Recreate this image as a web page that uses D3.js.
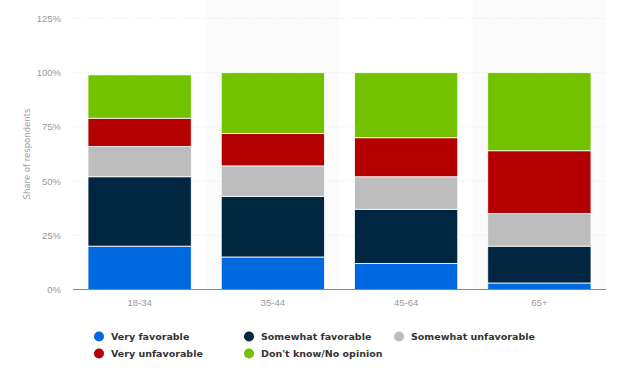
<!DOCTYPE html>
<html>
<head>
<meta charset="utf-8">
<script src="https://cdn.jsdelivr.net/npm/d3@7"></script>
<style>
  html, body { margin: 0; padding: 0; background: #fff; }
  svg { display: block; font-family: "DejaVu Sans", "Open Sans", sans-serif; }
</style>
</head>
<body>
<svg id="chart" width="620" height="380"></svg>
<script>
const categories = ["18-34", "35-44", "45-64", "65+"];
const seriesNames = ["Very favorable", "Somewhat favorable", "Somewhat unfavorable", "Very unfavorable", "Don't know/No opinion"];
const veryFavorable = [20, 15, 12, 3];
const somewhatFavorable = [32, 28, 25, 17];
const somewhatUnfavorable = [14, 14, 15, 15];
const veryUnfavorable = [13, 15, 18, 29];
const dontKnow = [20, 28, 30, 36];
const yTicks = [0, 25, 50, 75, 100, 125];
const colors = ["#0069e0", "#002642", "#bdbdbd", "#b40000", "#72c200"];

const seriesValues = [veryFavorable, somewhatFavorable, somewhatUnfavorable, veryUnfavorable, dontKnow];

const svg = d3.select("#chart");
const mLeft = 73, mRight = 606, mTop = 18.5, mBottom = 289.5;

const x = d3.scaleBand().domain(categories).range([mLeft, mRight]).paddingInner(0.225).paddingOuter(0.1125);
const y = d3.scaleLinear().domain([0, 125]).range([mBottom, mTop]);

// alternating column shading
const step = x.step();
svg.append("g").selectAll("rect")
  .data(categories.filter((d, i) => i % 2 === 1))
  .join("rect")
  .attr("x", d => x(d) + x.bandwidth() / 2 - step / 2)
  .attr("y", 0)
  .attr("width", step)
  .attr("height", mBottom)
  .attr("fill", "#fbfbfb");

// gridlines
svg.append("g").selectAll("line")
  .data(yTicks.filter(d => d > 0))
  .join("line")
  .attr("x1", mLeft).attr("x2", mRight)
  .attr("y1", d => y(d)).attr("y2", d => y(d))
  .attr("stroke", "#dcdcdc")
  .attr("stroke-width", 0.8)
  .attr("stroke-dasharray", "1,2");

// y axis labels
const yAxis = d3.axisLeft(y).tickValues(yTicks).tickFormat(d => d + "%").tickSize(0).tickPadding(12);
const yg = svg.append("g").attr("transform", `translate(${mLeft},0)`).call(yAxis);
yg.select(".domain").remove();
yg.selectAll("text").attr("fill", "#9a9a9a").attr("font-size", 9.5);

// y title
svg.append("text")
  .attr("transform", `translate(30,154) rotate(-90)`)
  .attr("text-anchor", "middle")
  .attr("fill", "#a0a0a0")
  .attr("font-size", 8.5)
  .text("Share of respondents");

// stacked data
const table = categories.map((c, i) => {
  const row = { category: c };
  seriesNames.forEach((s, j) => row[s] = seriesValues[j][i]);
  return row;
});
const stacked = d3.stack().keys(seriesNames)(table);

svg.append("g").selectAll("g")
  .data(stacked)
  .join("g")
  .attr("fill", (d, i) => colors[i])
  .selectAll("rect")
  .data(d => d)
  .join("rect")
  .attr("x", d => x(d.data.category))
  .attr("y", d => y(d[1]))
  .attr("width", x.bandwidth())
  .attr("height", d => y(d[0]) - y(d[1]))
  .attr("stroke", "#ffffff")
  .attr("stroke-width", 0.8);

// x axis
const xAxis = d3.axisBottom(x).tickSize(0).tickPadding(10);
const xg = svg.append("g").attr("transform", `translate(0,${mBottom})`).call(xAxis);
xg.select(".domain").attr("stroke", "#888").attr("stroke-width", 1.2).attr("d", `M${mLeft},0H${mRight}`);
xg.selectAll("text").attr("fill", "#9a9a9a").attr("font-size", 9.5);

// legend
const legendPos = [[99, 336.5], [249, 336.5], [399, 336.5], [99, 353.5], [249, 353.5]];
const lg = svg.append("g").selectAll("g")
  .data(seriesNames)
  .join("g")
  .attr("transform", (d, i) => `translate(${legendPos[i][0]},${legendPos[i][1]})`);
lg.append("circle").attr("r", 5).attr("fill", (d, i) => colors[i]);
lg.append("text")
  .attr("x", 12)
  .attr("dy", "0.35em")
  .attr("fill", "#333")
  .attr("font-size", 9.5)
  .attr("font-weight", 600)
  .text(d => d);
</script>
</body>
</html>
